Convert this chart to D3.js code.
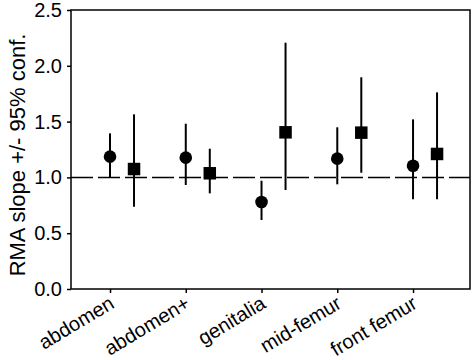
<!DOCTYPE html>
<html><head><meta charset="utf-8">
<script src="https://cdn.jsdelivr.net/npm/d3@7"></script>
<style>html,body{margin:0;padding:0;background:#fff;}</style>
</head><body>
<svg id="chart" width="474" height="360"></svg>
<script>
const categories = ["abdomen", "abdomen+", "genitalia", "mid-femur", "front femur"];
const circleMean = [1.186, 1.177, 0.78, 1.168, 1.105];
const circleLow  = [1.00, 0.932, 0.618, 0.938, 0.804];
const circleHigh = [1.395, 1.481, 0.97, 1.449, 1.52];
const squareMean = [1.075, 1.037, 1.404, 1.401, 1.21];
const squareLow  = [0.737, 0.857, 0.887, 1.042, 0.804];
const squareHigh = [1.565, 1.257, 2.207, 1.897, 1.762];
const yTicks = [0, 0.5, 1.0, 1.5, 2.0, 2.5];
const refValue = 1.0;
const squareOffset = 0.317;

const svg = d3.select("#chart");
const L = 71, R = 470, T = 10, B = 289;
const x = d3.scaleLinear().domain([0.485, 5.752]).range([L, R]);
const y = d3.scaleLinear().domain([0, 2.5]).range([B, T]);
const font = "'Liberation Sans', Arial, sans-serif";

svg.append("line")
  .attr("x1", L).attr("x2", R)
  .attr("y1", y(refValue)).attr("y2", y(refValue))
  .attr("stroke", "#000").attr("stroke-width", 1.5)
  .attr("stroke-dasharray", "22,5");

const idx = categories.map((c, i) => i);

svg.selectAll(".ebc").data(idx).enter().append("line")
  .attr("x1", i => x(i + 1)).attr("x2", i => x(i + 1))
  .attr("y1", i => y(circleLow[i])).attr("y2", i => y(circleHigh[i]))
  .attr("stroke", "#000").attr("stroke-width", 2);
svg.selectAll(".ebs").data(idx).enter().append("line")
  .attr("x1", i => x(i + 1 + squareOffset)).attr("x2", i => x(i + 1 + squareOffset))
  .attr("y1", i => y(squareLow[i])).attr("y2", i => y(squareHigh[i]))
  .attr("stroke", "#000").attr("stroke-width", 2);

svg.selectAll(".circ").data(idx).enter().append("circle")
  .attr("cx", i => x(i + 1)).attr("cy", i => y(circleMean[i]))
  .attr("r", 6.3).attr("fill", "#000");
const s = 12.5;
svg.selectAll(".sq").data(idx).enter().append("rect")
  .attr("x", i => x(i + 1 + squareOffset) - s / 2)
  .attr("y", i => y(squareMean[i]) - s / 2)
  .attr("width", s).attr("height", s).attr("fill", "#000");

svg.append("rect").attr("x", L).attr("y", T).attr("width", R - L).attr("height", B - T)
  .attr("fill", "none").attr("stroke", "#000").attr("stroke-width", 1.5);

const yAxis = svg.append("g").attr("transform", `translate(${L},0)`)
  .call(d3.axisLeft(y).tickValues(yTicks).tickFormat(d3.format(".1f")).tickSize(4).tickPadding(5));
yAxis.select(".domain").remove();
yAxis.selectAll("line").attr("stroke-width", 1.5);
yAxis.selectAll("text").attr("font-family", font).attr("font-size", 20).attr("fill", "#000");

const xAxis = svg.append("g").attr("transform", `translate(0,${B})`)
  .call(d3.axisBottom(x).tickValues(idx.map(i => i + 1)).tickFormat(d => categories[d - 1]).tickSize(4));
xAxis.select(".domain").remove();
xAxis.selectAll("line").attr("stroke-width", 1.5);
xAxis.selectAll("text")
  .attr("font-family", font).attr("font-size", 20).attr("fill", "#000")
  .attr("text-anchor", "end")
  .attr("y", 0).attr("dy", 0)
  .attr("transform", "translate(5,18) rotate(-31)");

svg.append("text")
  .attr("transform", "translate(25,155) rotate(-90)")
  .attr("text-anchor", "middle")
  .attr("font-family", font).attr("font-size", 22).attr("fill", "#000")
  .text("RMA slope +/- 95% conf.");
</script>
</body></html>
